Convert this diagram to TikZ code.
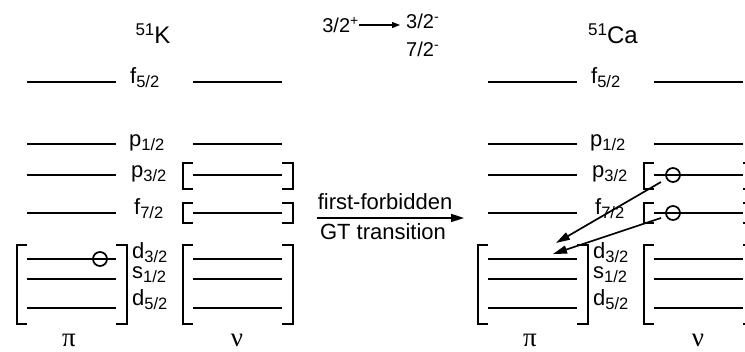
\documentclass[tikz,border=0pt]{standalone}
\usepackage{fontspec}
\setmainfont{Liberation Sans}
\newfontfamily\grkfont{Liberation Serif}
\usetikzlibrary{arrows.meta}
\newcommand{\lv}[2]{#1{\fontsize{16.5}{16.5}\selectfont\raisebox{-4pt}{#2}}}
\newcommand{\nuc}[2]{{\fontsize{17}{17}\selectfont\raisebox{8pt}{#1}}#2}
\tikzset{
  lvl/.style={line width=1.7pt},
  brk/.style={line width=1.7pt},
  hole/.style={circle, draw, line width=1.7pt, minimum size=14pt, inner sep=0pt},
  lab/.style={anchor=base west, inner sep=0pt, font=\fontsize{22}{22}\selectfont},
  ttl/.style={anchor=base, inner sep=0pt, font=\fontsize{24}{24}\selectfont},
  mid/.style={anchor=base, inner sep=0pt, font=\fontsize{22}{22}\selectfont},
  spin/.style={inner sep=0pt, font=\fontsize{20}{20}\selectfont},
  grk/.style={anchor=base, inner sep=0pt, font=\fontsize{27}{27}\selectfont\grkfont},
  tarrow/.style={line width=1.7pt, -{Triangle[length=14pt,width=8pt]}},
}
\newcommand{\panel}{%
  \foreach \n/\y in {f52/82, p12/144, p32/175, f72/213, d32/259, s12/279, d52/308} {
    \coordinate (\n-pa) at (27,\y); \coordinate (\n-pb) at (116,\y);
    \coordinate (\n-na) at (193,\y); \coordinate (\n-nb) at (282,\y);
    \draw[lvl] (\n-pa) -- (\n-pb);
    \draw[lvl] (\n-na) -- (\n-nb);
  }
  \node[lab] (lf52) at (130,84) {\lv{f}{5/2}};
  \node[lab] (lp12) at (129,147) {\lv{p}{1/2}};
  \node[lab] (lp32) at (131,178) {\lv{p}{3/2}};
  \node[lab] (lf72) at (134,215) {\lv{f}{7/2}};
  \node[lab] (ld32) at (132,259) {\lv{d}{3/2}};
  \node[lab] (ls12) at (132,279) {\lv{s}{1/2}};
  \node[lab] (ld52) at (132,306) {\lv{d}{5/2}};
  % proton core bracket
  \draw[brk] (27,245) -| (17,324) -- (27,324);
  \draw[brk] (116,245) -| (127,324) -- (116,324);
  % neutron core bracket
  \draw[brk] (193,245) -| (183,324) -- (193,324);
  \draw[brk] (282,245) -| (293,324) -- (282,324);
  % neutron p3/2 bracket
  \draw[brk] (193,163) -| (183,189) -- (193,189);
  \draw[brk] (282,163) -| (293,189) -- (282,189);
  % neutron f7/2 bracket
  \draw[brk] (193,203) -| (183,223) -- (193,223);
  \draw[brk] (282,203) -| (293,223) -- (282,223);
  \node[grk] (pi) at (69,347) {π};
  \node[grk] (nu) at (237,347) {ν};
}
\begin{document}
\begin{tikzpicture}[x=1pt,y=-1pt]
\useasboundingbox (0,0) rectangle (745,352);
\clip (0,0) rectangle (745,352);
\fill[white] (0,0) rectangle (745,352);
% left panel 51K
\begin{scope}[name prefix=L-]
  \panel
  \node[hole] (h1) at (100,259) {};
\end{scope}
\node[ttl] (tK) at (153,44) {\nuc{51}{K}};
% right panel 51Ca
\begin{scope}[xshift=461pt, name prefix=R-]
  \panel
  \node[hole] (h1) at (212,175) {};
  \node[hole] (h2) at (212,213) {};
\end{scope}
\node[ttl] (tCa) at (613,44) {\nuc{51}{Ca}};
% spin sequence
\node[spin, anchor=base east] (ini) at (359,33) {3/2\textsuperscript{+}};
\node[spin, anchor=base west] (fa) at (406,29) {3/2\textsuperscript{-}};
\node[spin, anchor=base west] (fb) at (406,57) {7/2\textsuperscript{-}};
\coordinate (s1) at (359,25);
\coordinate (s2) at (400,25);
\draw[line width=1.2pt, -{Triangle[length=8pt,width=6pt]}] (s1) -- (s2);
% middle transition arrow
\node[mid] (ff) at (385,210) {first-forbidden};
\node[mid] (gt) at (383,240) {GT transition};
\coordinate (m1) at (317,218);
\coordinate (m2) at (464,218);
\draw[line width=1.6pt, -{Triangle[length=13pt,width=8pt]}] (m1) -- (m2);
% transition arrows in 51Ca
\coordinate (t1s) at (661,182);
\coordinate (t1e) at (556,243);
\coordinate (t2s) at (661,218);
\coordinate (t2e) at (553,254);
\draw[tarrow] (t1s) -- (t1e);
\draw[tarrow] (t2s) -- (t2e);
\end{tikzpicture}
\end{document}
